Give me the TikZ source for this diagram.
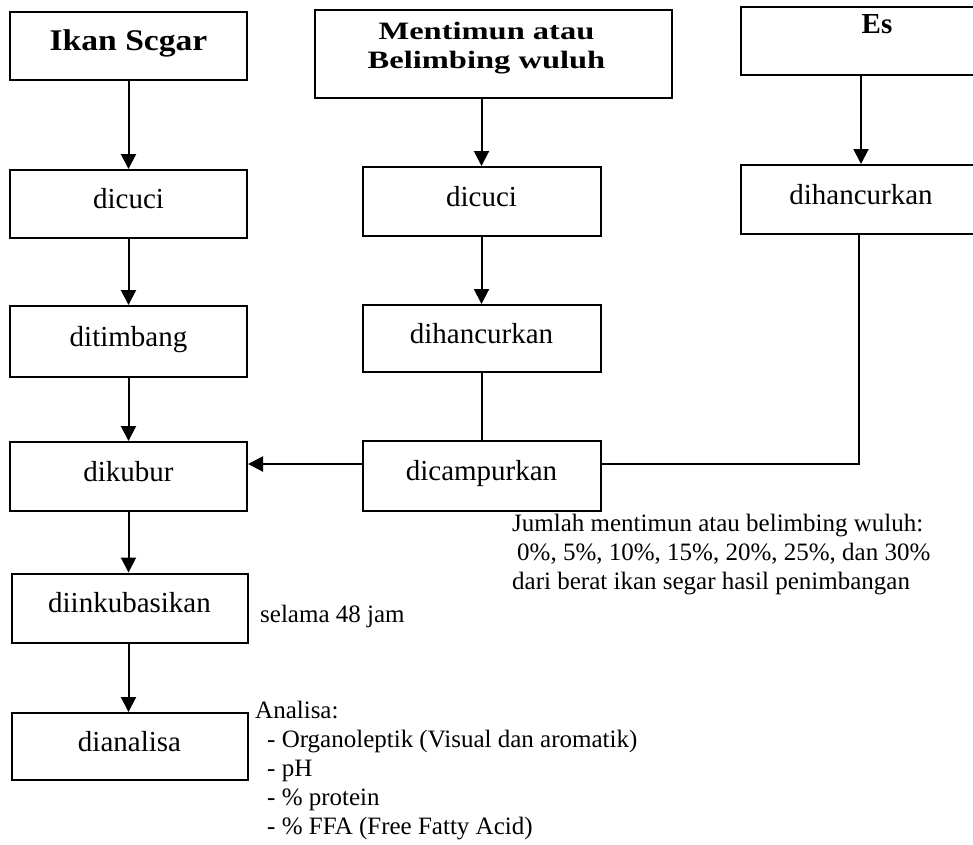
\documentclass[tikz,border=0pt]{standalone}
\usepackage{fontspec}
\usepackage{graphicx}
\setmainfont{Liberation Serif}
\usetikzlibrary{arrows.meta}
\begin{document}
\begin{tikzpicture}[x=1pt,y=-1pt,
  box/.style={draw, line width=2pt, inner sep=0pt, align=center,
    text height=20pt, text depth=11pt,
    font=\fontsize{29}{34}\selectfont},
  hdr/.style={box, font=\bfseries\fontsize{30}{34}\selectfont},
  arr/.style={-{Triangle[length=15pt,width=15pt]}, line width=2pt},
  con/.style={line width=2pt},
  note/.style={inner sep=0pt, font=\fontsize{25}{29}\selectfont}]
\useasboundingbox (0,0) rectangle (973,844);
\clip (0,0) rectangle (973,844);
% column 1
\node[hdr, minimum width=237pt, minimum height=68pt, text height=20pt, text depth=12pt] (ikan) at (128.5,46) {\scalebox{1.12}[1]{Ikan Scgar}};
\node[box, minimum width=237pt, minimum height=68pt] (dc1) at (128.5,204) {dicuci};
\node[box, minimum width=237pt, minimum height=71pt] (tim) at (128.5,341.5) {ditimbang};
\node[box, minimum width=237pt, minimum height=69pt] (kub) at (128.5,476.5) {dikubur};
\node[box, minimum width=236pt, minimum height=69pt] (ink) at (129.5,608) {diinkubasikan};
\node[box, minimum width=236pt, minimum height=67pt] (ana) at (129.5,746.5) {dianalisa};
% column 2
\node[hdr, minimum width=357pt, minimum height=88pt, text height=17pt, text depth=46pt,
  font=\bfseries\fontsize{25}{29}\selectfont] (men) at (493.5,54)
  {\hspace*{-14pt}\scalebox{1.3}[1]{\begin{tabular}[t]{@{}c@{}}Mentimun atau\\Belimbing wuluh\end{tabular}}};
\node[box, minimum width=238pt, minimum height=69pt] (dc2) at (481.5,201.5) {dicuci};
\node[box, minimum width=238pt, minimum height=67pt] (dh2) at (481.5,338.5) {dihancurkan};
\node[box, minimum width=238pt, minimum height=70pt] (cam) at (481.5,476) {dicampurkan};
% column 3
\node[hdr, minimum width=272pt, minimum height=68pt, text height=18pt, text depth=34pt,
  font=\bfseries\fontsize{29}{34}\selectfont] (es) at (877,41) {Es};
\node[box, minimum width=240pt, minimum height=69pt] (dh3) at (861,199.5) {dihancurkan};
% notes
\node[note, anchor=base west] (sel) at (260,622) {selama 48 jam};
\node[note, anchor=base west] (jml) at (512,531)
  {\begin{tabular}[t]{@{}l@{}}Jumlah mentimun atau belimbing wuluh:\\\hspace*{5pt}0\%, 5\%, 10\%, 15\%, 20\%, 25\%, dan 30\%\\dari berat ikan segar hasil penimbangan\end{tabular}};
\node[note, anchor=base west] (anl) at (255,718)
  {\begin{tabular}[t]{@{}l@{}}Analisa:\\\hspace*{12pt}- Organoleptik (Visual dan aromatik)\\\hspace*{12pt}- pH\\\hspace*{12pt}- \% protein\\\hspace*{12pt}- \% FFA (Free Fatty Acid)\end{tabular}};
% connectors
\draw[arr] (ikan) -- (dc1);
\draw[arr] (dc1) -- (tim);
\draw[arr] (tim) -- (kub);
\draw[arr] (kub.south) -- (kub.south |- ink.north);
\draw[arr] (kub.south |- ink.south) -- (kub.south |- ana.north);
\draw[arr] (men.south -| dc2.north) -- (dc2.north);
\draw[arr] (dc2) -- (dh2);
\draw[con] (dh2) -- (cam);
\draw[arr] (es.south -| dh3.north) -- (dh3.north);
\draw[arr] ([yshift=12pt]cam.west) -- ([yshift=12pt]cam.west -| kub.east);
\draw[con] ([yshift=12pt]cam.east) -| ([xshift=-2pt]dh3.south);
\end{tikzpicture}
\end{document}
